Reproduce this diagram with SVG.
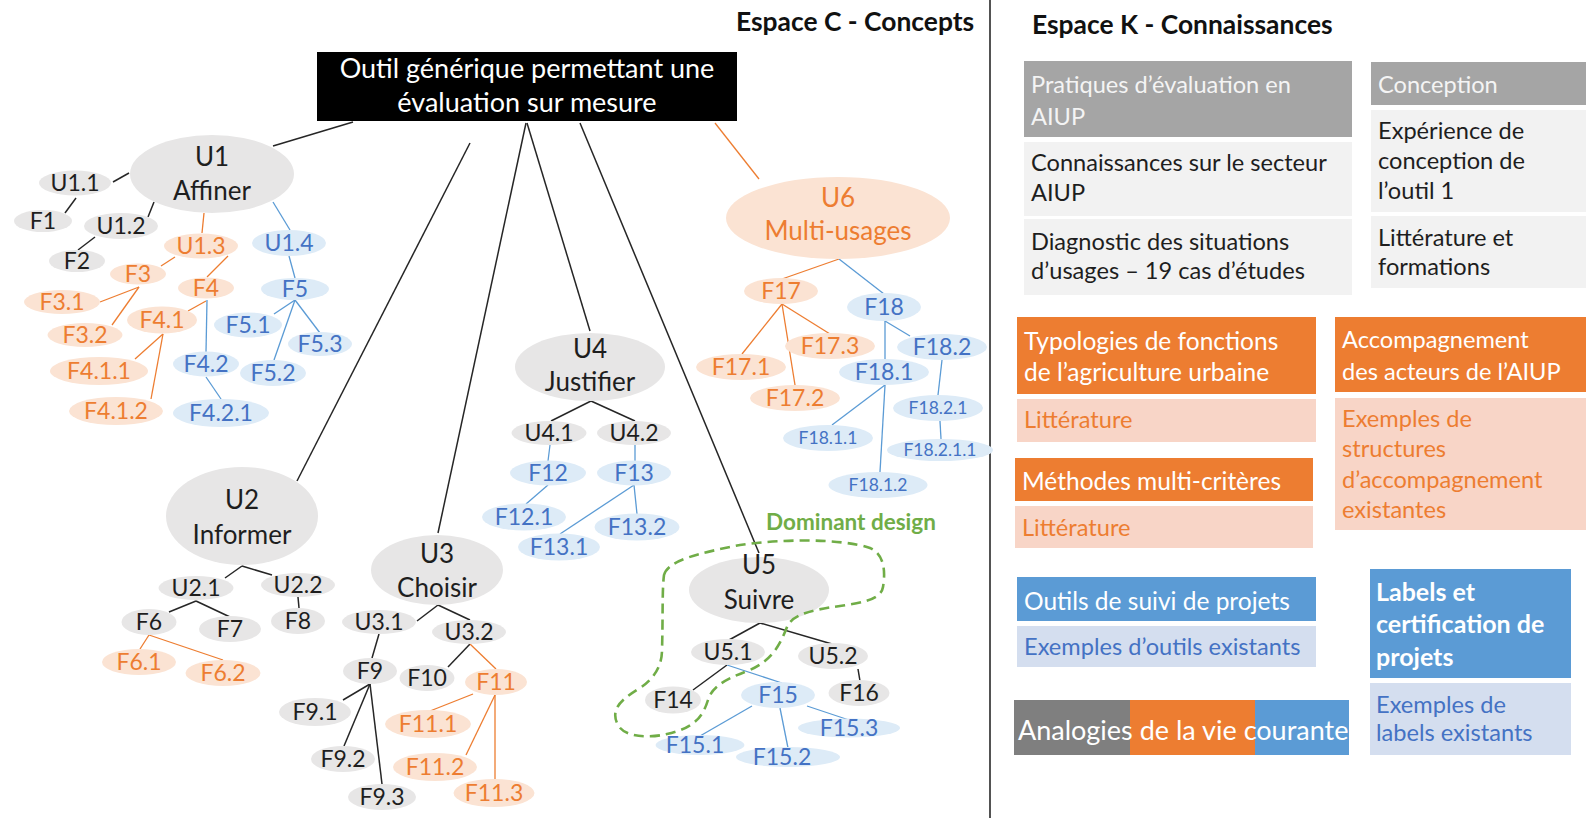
<svg xmlns="http://www.w3.org/2000/svg" width="1586" height="818" viewBox="0 0 1586 818">
<style>
text{font-family:Lato,"Liberation Sans",sans-serif}
.g{fill:#E7E6E6}.o{fill:#FBE3D3}.b{fill:#DDEBF7}
.tk{fill:#1E1E1E}.to{fill:#ED7D31}.tb{fill:#4472C4}.tw{fill:#FFFFFF}.tl{fill:#F4F4F4}
.L{font-size:26px}.M{font-size:23px}.S{font-size:17.5px}.R{font-size:23.6px}.H{font-size:24.5px}
.c text{text-anchor:middle}
.cl{stroke:#262626;stroke-width:1.5;fill:none}
.co{stroke:#ED7D31;stroke-width:1.3;fill:none}
.cb{stroke:#5B9BD5;stroke-width:1.3;fill:none}
.ttl{font-size:26.4px;font-weight:bold;fill:#111}
</style>
<rect width="1586" height="818" fill="#FFFFFF"/>

<text class="ttl" x="736" y="31">Espace C - Concepts</text>
<line x1="990" y1="0" x2="990" y2="818" stroke="#404040" stroke-width="1.8"/>
<text class="ttl" x="1032" y="34">Espace K - Connaissances</text>

<g id="connectors">
<line class="cl" x1="353" y1="122" x2="273" y2="146"/>
<line class="cl" x1="470" y1="143" x2="297" y2="481"/>
<line class="cl" x1="526" y1="123" x2="438" y2="533"/>
<line class="cl" x1="527" y1="123" x2="590" y2="331"/>
<line class="cl" x1="580" y1="123" x2="759" y2="553"/>
<line class="co" x1="715" y1="123" x2="759" y2="179"/>
<!-- U1 -->
<line class="cl" x1="129" y1="173" x2="113" y2="182"/>
<line class="cl" x1="76" y1="198" x2="65" y2="213"/>
<line class="cl" x1="154" y1="202" x2="148" y2="217"/>
<line class="cl" x1="95" y1="237" x2="78" y2="250"/>
<line class="co" x1="204" y1="213" x2="202" y2="233"/>
<line class="co" x1="175" y1="257" x2="161" y2="266"/>
<line class="co" x1="228" y1="256" x2="207" y2="277"/>
<line class="co" x1="139" y1="287" x2="100" y2="302"/>
<line class="co" x1="139" y1="287" x2="112" y2="325"/>
<line class="co" x1="206" y1="301" x2="188" y2="311"/>
<line class="co" x1="163" y1="334" x2="135" y2="359"/>
<line class="co" x1="163" y1="334" x2="151" y2="399"/>
<line class="cb" x1="207" y1="300" x2="206" y2="352"/>
<line class="cb" x1="206" y1="377" x2="221" y2="399"/>
<line class="cb" x1="273" y1="202" x2="290" y2="230"/>
<line class="cb" x1="289" y1="256" x2="295" y2="278"/>
<line class="cb" x1="295" y1="300" x2="274" y2="314"/>
<line class="cb" x1="295" y1="300" x2="320" y2="333"/>
<line class="cb" x1="295" y1="300" x2="274" y2="360"/>
<!-- U2 -->
<line class="cl" x1="242" y1="566" x2="225" y2="578"/>
<line class="cl" x1="242" y1="566" x2="272" y2="575"/>
<line class="cl" x1="196" y1="601" x2="169" y2="612"/>
<line class="cl" x1="196" y1="601" x2="230" y2="617"/>
<line class="cl" x1="298" y1="597" x2="299" y2="608"/>
<line class="co" x1="149" y1="635" x2="140" y2="649"/>
<line class="co" x1="149" y1="635" x2="223" y2="660"/>
<!-- U3 -->
<line class="cl" x1="438" y1="605" x2="417" y2="621"/>
<line class="cl" x1="438" y1="605" x2="470" y2="620"/>
<line class="cl" x1="379" y1="634" x2="372" y2="658"/>
<line class="cl" x1="470" y1="644" x2="448" y2="667"/>
<line class="cl" x1="370" y1="684" x2="343" y2="700"/>
<line class="cl" x1="370" y1="684" x2="344" y2="746"/>
<line class="cl" x1="370" y1="684" x2="382" y2="784"/>
<line class="co" x1="470" y1="644" x2="496" y2="669"/>
<line class="co" x1="473" y1="694" x2="430" y2="711"/>
<line class="co" x1="495" y1="695" x2="466" y2="755"/>
<line class="co" x1="495" y1="695" x2="495" y2="779"/>
<!-- U4 -->
<line class="cl" x1="591" y1="401" x2="551" y2="421"/>
<line class="cl" x1="591" y1="401" x2="635" y2="421"/>
<line class="cb" x1="550" y1="445" x2="548" y2="461"/>
<line class="cb" x1="635" y1="445" x2="635" y2="461"/>
<line class="cb" x1="548" y1="485" x2="526" y2="504"/>
<line class="cb" x1="634" y1="485" x2="637" y2="514"/>
<line class="cb" x1="634" y1="485" x2="560" y2="534"/>
<!-- U5 -->
<line class="cl" x1="760" y1="623" x2="729" y2="640"/>
<line class="cl" x1="760" y1="623" x2="832" y2="644"/>
<line class="cl" x1="727" y1="665" x2="693" y2="690"/>
<line class="cl" x1="858" y1="669" x2="860" y2="681"/>
<line class="cb" x1="727" y1="665" x2="782" y2="683"/>
<line class="cb" x1="752" y1="706" x2="700" y2="736"/>
<line class="cb" x1="780" y1="708" x2="788" y2="748"/>
<line class="cb" x1="807" y1="706" x2="849" y2="720"/>
<!-- U6 -->
<line class="co" x1="839" y1="259" x2="782" y2="279"/>
<line class="co" x1="782" y1="304" x2="742" y2="354"/>
<line class="co" x1="782" y1="304" x2="830" y2="334"/>
<line class="co" x1="782" y1="304" x2="795" y2="385"/>
<line class="cb" x1="839" y1="259" x2="884" y2="294"/>
<line class="cb" x1="885" y1="321" x2="910" y2="336"/>
<line class="cb" x1="885" y1="321" x2="885" y2="360"/>
<line class="cb" x1="885" y1="385" x2="832" y2="425"/>
<line class="cb" x1="885" y1="385" x2="880" y2="472"/>
<line class="cb" x1="942" y1="360" x2="938" y2="395"/>
<line class="cb" x1="940" y1="421" x2="941" y2="439"/>
</g>

<g id="root">
<rect x="317" y="52" width="420" height="69" fill="#000000"/>
<text x="527" y="78" class="tw" font-size="27" text-anchor="middle">Outil générique permettant une</text>
<text x="527" y="112" class="tw" font-size="27" text-anchor="middle">évaluation sur mesure</text>
</g>

<g class="c">
<g id="U1"><ellipse class="g" cx="212" cy="174" rx="82" ry="39"/><text class="tk L" x="212" y="166">U1</text><text class="tk L" x="212" y="200">Affiner</text></g>
<g id="U1.1"><ellipse class="g" cx="75" cy="183" rx="36" ry="12.5"/><text class="tk M" x="75" y="191">U1.1</text></g>
<g id="F1"><ellipse class="g" cx="43" cy="221" rx="29" ry="11"/><text class="tk M" x="43" y="229">F1</text></g>
<g id="U1.2"><ellipse class="g" cx="121" cy="226" rx="37" ry="13"/><text class="tk M" x="121" y="234">U1.2</text></g>
<g id="F2"><ellipse class="g" cx="77" cy="261" rx="28" ry="11"/><text class="tk M" x="77" y="269">F2</text></g>
<g id="U1.3"><ellipse class="o" cx="201" cy="246" rx="37" ry="12.5"/><text class="to M" x="201" y="254">U1.3</text></g>
<g id="F3"><ellipse class="o" cx="138" cy="274" rx="28" ry="10.5"/><text class="to M" x="138" y="282">F3</text></g>
<g id="F4"><ellipse class="o" cx="206" cy="288" rx="28" ry="10.5"/><text class="to M" x="206" y="296">F4</text></g>
<g id="F3.1"><ellipse class="o" cx="62" cy="302" rx="38" ry="12"/><text class="to M" x="62" y="310">F3.1</text></g>
<g id="F3.2"><ellipse class="o" cx="85" cy="335" rx="37.5" ry="12"/><text class="to M" x="85" y="343">F3.2</text></g>
<g id="F4.1"><ellipse class="o" cx="162" cy="320" rx="35" ry="13.5"/><text class="to M" x="162" y="328">F4.1</text></g>
<g id="F4.1.1"><ellipse class="o" cx="99" cy="371" rx="49" ry="14"/><text class="to M" x="99" y="379">F4.1.1</text></g>
<g id="F4.1.2"><ellipse class="o" cx="116" cy="411" rx="47" ry="14"/><text class="to M" x="116" y="419">F4.1.2</text></g>
<g id="U1.4"><ellipse class="b" cx="289" cy="243" rx="37" ry="13"/><text class="tb M" x="289" y="251">U1.4</text></g>
<g id="F5"><ellipse class="b" cx="295" cy="289" rx="34" ry="11"/><text class="tb M" x="295" y="297">F5</text></g>
<g id="F5.1"><ellipse class="b" cx="248" cy="325" rx="34" ry="12.5"/><text class="tb M" x="248" y="333">F5.1</text></g>
<g id="F5.3"><ellipse class="b" cx="320" cy="344" rx="32" ry="12"/><text class="tb M" x="320" y="352">F5.3</text></g>
<g id="F5.2"><ellipse class="b" cx="273" cy="373" rx="33" ry="13"/><text class="tb M" x="273" y="381">F5.2</text></g>
<g id="F4.2"><ellipse class="b" cx="206" cy="364" rx="33" ry="12.5"/><text class="tb M" x="206" y="372">F4.2</text></g>
<g id="F4.2.1"><ellipse class="b" cx="221" cy="413" rx="48" ry="14"/><text class="tb M" x="221" y="421">F4.2.1</text></g>

<g id="U2"><ellipse class="g" cx="242" cy="516" rx="76" ry="49"/><text class="tk L" x="242" y="509">U2</text><text class="tk L" x="242" y="544">Informer</text></g>
<g id="U2.1"><ellipse class="g" cx="196" cy="588" rx="37.5" ry="12"/><text class="tk M" x="196" y="596">U2.1</text></g>
<g id="U2.2"><ellipse class="g" cx="298" cy="585" rx="37" ry="12"/><text class="tk M" x="298" y="593">U2.2</text></g>
<g id="F6"><ellipse class="g" cx="149" cy="622" rx="27.5" ry="13"/><text class="tk M" x="149" y="630">F6</text></g>
<g id="F7"><ellipse class="g" cx="230" cy="629" rx="31" ry="13"/><text class="tk M" x="230" y="637">F7</text></g>
<g id="F8"><ellipse class="g" cx="298" cy="621" rx="27" ry="13"/><text class="tk M" x="298" y="629">F8</text></g>
<g id="F6.1"><ellipse class="o" cx="139" cy="662" rx="37" ry="13"/><text class="to M" x="139" y="670">F6.1</text></g>
<g id="F6.2"><ellipse class="o" cx="223" cy="673" rx="37.5" ry="13"/><text class="to M" x="223" y="681">F6.2</text></g>

<g id="U3"><ellipse class="g" cx="437" cy="570" rx="66" ry="35"/><text class="tk L" x="437" y="563">U3</text><text class="tk L" x="437" y="597">Choisir</text></g>
<g id="U3.1"><ellipse class="g" cx="379" cy="622" rx="37" ry="12"/><text class="tk M" x="379" y="630">U3.1</text></g>
<g id="U3.2"><ellipse class="g" cx="469" cy="632" rx="37" ry="12"/><text class="tk M" x="469" y="640">U3.2</text></g>
<g id="F9"><ellipse class="g" cx="370" cy="671" rx="27" ry="13"/><text class="tk M" x="370" y="679">F9</text></g>
<g id="F10"><ellipse class="g" cx="427" cy="678" rx="27.5" ry="13"/><text class="tk M" x="427" y="686">F10</text></g>
<g id="F11"><ellipse class="o" cx="496" cy="682" rx="31" ry="13"/><text class="to M" x="496" y="690">F11</text></g>
<g id="F9.1"><ellipse class="g" cx="315" cy="712" rx="36" ry="14"/><text class="tk M" x="315" y="720">F9.1</text></g>
<g id="F9.2"><ellipse class="g" cx="343" cy="759" rx="32" ry="13"/><text class="tk M" x="343" y="767">F9.2</text></g>
<g id="F9.3"><ellipse class="g" cx="382" cy="797" rx="34" ry="13"/><text class="tk M" x="382" y="805">F9.3</text></g>
<g id="F11.1"><ellipse class="o" cx="428" cy="724" rx="43" ry="14"/><text class="to M" x="428" y="732">F11.1</text></g>
<g id="F11.2"><ellipse class="o" cx="435" cy="767" rx="42" ry="14"/><text class="to M" x="435" y="775">F11.2</text></g>
<g id="F11.3"><ellipse class="o" cx="494" cy="793" rx="40.5" ry="14"/><text class="to M" x="494" y="801">F11.3</text></g>

<g id="U4"><ellipse class="g" cx="590" cy="367" rx="75" ry="34"/><text class="tk L" x="590" y="358">U4</text><text class="tk L" x="590" y="391">Justifier</text></g>
<g id="U4.1"><ellipse class="g" cx="549" cy="433" rx="37.5" ry="12"/><text class="tk M" x="549" y="441">U4.1</text></g>
<g id="U4.2"><ellipse class="g" cx="634" cy="433" rx="37" ry="12"/><text class="tk M" x="634" y="441">U4.2</text></g>
<g id="F12"><ellipse class="b" cx="548" cy="473" rx="38" ry="12.5"/><text class="tb M" x="548" y="481">F12</text></g>
<g id="F13"><ellipse class="b" cx="634" cy="473" rx="37" ry="12.5"/><text class="tb M" x="634" y="481">F13</text></g>
<g id="F12.1"><ellipse class="b" cx="524" cy="517" rx="42" ry="13.5"/><text class="tb M" x="524" y="525">F12.1</text></g>
<g id="F13.2"><ellipse class="b" cx="637" cy="527" rx="42.5" ry="13.5"/><text class="tb M" x="637" y="535">F13.2</text></g>
<g id="F13.1"><ellipse class="b" cx="559" cy="547" rx="41" ry="13.5"/><text class="tb M" x="559" y="555">F13.1</text></g>

<g id="U5"><ellipse class="g" cx="759" cy="590" rx="70" ry="33"/><text class="tk L" x="759" y="574">U5</text><text class="tk L" x="759" y="609">Suivre</text></g>
<g id="U5.1"><ellipse class="g" cx="728" cy="652" rx="37" ry="13"/><text class="tk M" x="728" y="660">U5.1</text></g>
<g id="U5.2"><ellipse class="g" cx="833" cy="656" rx="35" ry="13"/><text class="tk M" x="833" y="664">U5.2</text></g>
<g id="F14"><ellipse class="g" cx="673" cy="700" rx="28" ry="13.5"/><text class="tk M" x="673" y="708">F14</text></g>
<g id="F15"><ellipse class="b" cx="778" cy="695" rx="37" ry="13"/><text class="tb M" x="778" y="703">F15</text></g>
<g id="F16"><ellipse class="g" cx="859" cy="693" rx="30.5" ry="13"/><text class="tk M" x="859" y="701">F16</text></g>
<g id="F15.1"><ellipse class="b" cx="700" cy="745" rx="44.5" ry="10"/><text class="tb M" x="695" y="753">F15.1</text></g>
<g id="F15.2"><ellipse class="b" cx="788" cy="757" rx="52" ry="10"/><text class="tb M" x="782" y="765">F15.2</text></g>
<g id="F15.3"><ellipse class="b" cx="849" cy="728" rx="51" ry="9.5"/><text class="tb M" x="849" y="736">F15.3</text></g>

<g id="U6"><ellipse class="o" cx="838" cy="218" rx="112" ry="41"/><text class="to L" x="838" y="207">U6</text><text class="to L" x="838" y="240">Multi-usages</text></g>
<g id="F17"><ellipse class="o" cx="781" cy="291" rx="37" ry="13"/><text class="to M" x="781" y="299">F17</text></g>
<g id="F18"><ellipse class="b" cx="884" cy="307" rx="37" ry="14"/><text class="tb M" x="884" y="315">F18</text></g>
<g id="F17.1"><ellipse class="o" cx="741" cy="367" rx="45" ry="13"/><text class="to M" x="741" y="375">F17.1</text></g>
<g id="F17.3"><ellipse class="o" cx="830" cy="346" rx="45" ry="13"/><text class="to M" x="830" y="354">F17.3</text></g>
<g id="F17.2"><ellipse class="o" cx="795" cy="398" rx="45" ry="13"/><text class="to M" x="795" y="406">F17.2</text></g>
<g id="F18.2"><ellipse class="b" cx="942" cy="347" rx="45" ry="13"/><text class="tb M" x="942" y="355">F18.2</text></g>
<g id="F18.1"><ellipse class="b" cx="884" cy="372" rx="45" ry="13"/><text class="tb M" x="884" y="380">F18.1</text></g>
<g id="F18.1.1"><ellipse class="b" cx="828" cy="438" rx="45" ry="13"/><text class="tb S" x="828" y="444">F18.1.1</text></g>
<g id="F18.1.2"><ellipse class="b" cx="878" cy="485" rx="49.5" ry="13"/><text class="tb S" x="878" y="491">F18.1.2</text></g>
<g id="F18.2.1"><ellipse class="b" cx="938" cy="408" rx="45" ry="13"/><text class="tb S" x="938" y="414">F18.2.1</text></g>
<g id="F18.2.1.1"><ellipse class="b" cx="940" cy="450" rx="53" ry="11"/><text class="tb S" x="940" y="456">F18.2.1.1</text></g>
</g>

<g id="dominant-design">
<path d="M664,575 C668,560 700,553 740,545 C780,539 840,538 870,548 C886,555 885,575 883,587 C881,600 860,603 840,606 C810,610 792,615 787,627 C780,645 772,660 750,670 C728,678 712,686 708,700 C703,716 695,728 667,734 C650,738 625,738 618,725 C610,710 620,700 640,688 C655,678 662,665 662,650 C663,620 662,590 664,575 Z" fill="none" stroke="#70AD47" stroke-width="2.6" stroke-dasharray="10 6"/>
<text x="766" y="530" font-size="22.5" font-weight="bold" fill="#70AD47">Dominant design</text>
</g>

<g id="K-pratiques">
<rect x="1024" y="61" width="328" height="76" fill="#A5A5A5"/>
<text class="tl R" x="1031" y="93">Pratiques d’évaluation en</text>
<text class="tl R" x="1031" y="125">AIUP</text>
<rect x="1024" y="142" width="328" height="74" fill="#F2F2F2"/>
<text class="tk R" x="1031" y="171">Connaissances sur le secteur</text>
<text class="tk R" x="1031" y="201">AIUP</text>
<rect x="1024" y="219" width="328" height="76" fill="#F2F2F2"/>
<text class="tk R" x="1031" y="250">Diagnostic des situations</text>
<text class="tk R" x="1031" y="279">d’usages – 19 cas d’études</text>
</g>

<g id="K-conception">
<rect x="1371" y="62" width="215" height="43" fill="#A5A5A5"/>
<text class="tl R" x="1378" y="93">Conception</text>
<rect x="1371" y="110" width="215" height="102" fill="#F2F2F2"/>
<text class="tk R" x="1378" y="139">Expérience de</text>
<text class="tk R" x="1378" y="169">conception de</text>
<text class="tk R" x="1378" y="199">l’outil 1</text>
<rect x="1371" y="216" width="215" height="72" fill="#F2F2F2"/>
<text class="tk R" x="1378" y="246">Littérature et</text>
<text class="tk R" x="1378" y="275">formations</text>
</g>

<g id="K-typologies">
<rect x="1017" y="317" width="299" height="77" fill="#ED7D31"/>
<text class="tw H" x="1024" y="350">Typologies de fonctions</text>
<text class="tw H" x="1024" y="381">de l’agriculture urbaine</text>
<rect x="1017" y="399" width="299" height="43" fill="#F8D5C7"/>
<text class="to R" x="1024" y="428">Littérature</text>
</g>

<g id="K-methodes">
<rect x="1015" y="458" width="298" height="43" fill="#ED7D31"/>
<text class="tw H" x="1022" y="490">Méthodes multi-critères</text>
<rect x="1015" y="506" width="298" height="42" fill="#F8D5C7"/>
<text class="to R" x="1022" y="536">Littérature</text>
</g>

<g id="K-accompagnement">
<rect x="1335" y="317" width="251" height="75" fill="#ED7D31"/>
<text class="tw R" x="1342" y="348">Accompagnement</text>
<text class="tw R" x="1342" y="380">des acteurs de l’AIUP</text>
<rect x="1335" y="398" width="251" height="132" fill="#F8D5C7"/>
<text class="to R" x="1342" y="427">Exemples de</text>
<text class="to R" x="1342" y="457">structures</text>
<text class="to R" x="1342" y="488">d’accompagnement</text>
<text class="to R" x="1342" y="518">existantes</text>
</g>

<g id="K-outils">
<rect x="1017" y="577" width="299" height="44" fill="#5B9BD5"/>
<text class="tw H" x="1024" y="610">Outils de suivi de projets</text>
<rect x="1017" y="626" width="299" height="41" fill="#D4DEEF"/>
<text class="tb R" x="1024" y="655">Exemples d’outils existants</text>
</g>

<g id="K-labels">
<rect x="1370" y="569" width="201" height="109" fill="#5B9BD5"/>
<text class="tw" x="1376" y="601" font-size="25" font-weight="bold">Labels et</text>
<text class="tw" x="1376" y="633" font-size="25" font-weight="bold">certification de</text>
<text class="tw" x="1376" y="666" font-size="25" font-weight="bold">projets</text>
<rect x="1370" y="683" width="201" height="72" fill="#D4DEEF"/>
<text class="tb R" x="1376" y="713">Exemples de</text>
<text class="tb R" x="1376" y="741">labels existants</text>
</g>

<g id="K-analogies">
<rect x="1014" y="700" width="116" height="55" fill="#7F7F7F"/>
<rect x="1130" y="700" width="125" height="55" fill="#ED7D31"/>
<rect x="1255" y="700" width="94" height="55" fill="#5B9BD5"/>
<text class="tw" x="1018" y="740" font-size="27">Analogies de la vie courante</text>
</g>
</svg>
